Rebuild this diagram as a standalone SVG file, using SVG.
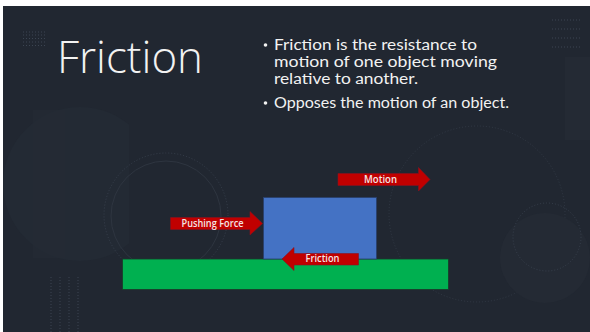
<svg xmlns="http://www.w3.org/2000/svg" width="590" height="332" viewBox="0 0 590 332">
  <defs>
    <style>
      .deco { fill: none; stroke: #2e3540; stroke-width: 1; }
      .dots { fill: none; stroke: #3c4552; stroke-width: 1; stroke-dasharray: 1 2; }
      .title { font-family: "Open Sans", "Liberation Sans", sans-serif; font-weight: 300; font-size: 45px; fill: #f2f2f2; }
      .bullet { font-family: Lato, "Liberation Sans", sans-serif; font-size: 14.5px; fill: #f2f2f2; }
      .arrow { fill: #c00000; stroke: #8a1020; stroke-width: 0.6; }
      .lbl { font-family: "Open Sans", "Liberation Sans", sans-serif; font-size: 10px; font-weight: 600; fill: #f4e4e4; text-anchor: middle; }
    </style>
    <clipPath id="slide"><rect x="3" y="6" width="587" height="326"/></clipPath>
    <clipPath id="leftc"><rect x="0" y="0" width="129" height="332"/></clipPath>
  </defs>

  <rect x="0" y="0" width="590" height="332" fill="#ffffff"/>
  <g id="background" clip-path="url(#slide)">
    <rect x="3" y="6" width="587" height="326" fill="#212731"/>
    <circle cx="80" cy="184" r="77" fill="#232a34" clip-path="url(#leftc)"/>
    <rect x="33" y="110" width="32" height="148" fill="#252b35" clip-path="url(#leftc)" opacity="0.6"/>
    <circle cx="166" cy="216" r="55" class="deco"/>
    <circle cx="166" cy="215" r="62" class="dots" opacity="0.8"/>
    <circle cx="477" cy="214" r="88" class="dots" opacity="0.6"/>
    <circle cx="545" cy="258" r="45" fill="#242a34"/>
    <circle cx="547" cy="237" r="34" class="dots" opacity="0.8"/>
    <rect x="565" y="57" width="25" height="83" fill="#242a34"/>
    <g class="dots">
      <line x1="23" y1="32" x2="45" y2="32"/>
      <line x1="23" y1="35" x2="45" y2="35"/>
      <line x1="23" y1="38.5" x2="45" y2="38.5"/>
      <line x1="23" y1="42" x2="45" y2="42"/>
      <line x1="23" y1="45.5" x2="45" y2="45.5"/>
      <line x1="552" y1="20" x2="580" y2="20"/>
      <line x1="552" y1="29" x2="580" y2="29"/>
      <line x1="552" y1="38" x2="580" y2="38"/>
      <line x1="552" y1="47" x2="580" y2="47"/>
      <line x1="51" y1="277" x2="51" y2="332"/>
      <line x1="60" y1="277" x2="60" y2="332"/>
      <line x1="69" y1="277" x2="69" y2="332"/>
      <line x1="78" y1="277" x2="78" y2="332"/>
    </g>
  </g>

  <g id="title">
    <text class="title" x="57" y="73" textLength="146" lengthAdjust="spacingAndGlyphs">Friction</text>
  </g>

  <g id="bullets">
    <circle cx="265.5" cy="45" r="1.8" fill="#f2f2f2"/>
    <text class="bullet" x="274" y="50" textLength="203" lengthAdjust="spacingAndGlyphs">Friction is the resistance to</text>
    <text class="bullet" x="274" y="67" textLength="223" lengthAdjust="spacingAndGlyphs">motion of one object moving</text>
    <text class="bullet" x="274" y="84" textLength="144" lengthAdjust="spacingAndGlyphs">relative to another.</text>
    <circle cx="265.5" cy="103" r="1.8" fill="#f2f2f2"/>
    <text class="bullet" x="274" y="108" textLength="235" lengthAdjust="spacingAndGlyphs">Opposes the motion of an object.</text>
  </g>

  <g id="ground">
    <rect x="122.5" y="259" width="326" height="30.5" fill="#00b050" stroke="#1a3a2a" stroke-width="0.8"/>
  </g>

  <g id="block">
    <rect x="263.5" y="197.5" width="113" height="61.5" fill="#4472c4" stroke="#2a3f6a" stroke-width="0.8"/>
  </g>

  <g id="connectors">
    <g id="motion-arrow">
      <polygon class="arrow" points="338,173.5 418.5,173.5 418.5,167.5 430,179.5 418.5,191 418.5,185.5 338,185.5"/>
      <text class="lbl" x="380.5" y="182.7" textLength="33" lengthAdjust="spacingAndGlyphs">Motion</text>
    </g>
    <g id="pushing-arrow">
      <polygon class="arrow" points="170.5,217.5 250,217.5 250,211.5 262.5,223.5 250,235 250,229.5 170.5,229.5"/>
      <text class="lbl" x="212.5" y="226.7" textLength="62" lengthAdjust="spacingAndGlyphs">Pushing Force</text>
    </g>
    <g id="friction-arrow">
      <polygon class="arrow" points="358.5,253.5 294,253.5 294,247.5 282,259 294,270.5 294,265 358.5,265"/>
      <text class="lbl" x="322.5" y="262.3" textLength="34" lengthAdjust="spacingAndGlyphs">Friction</text>
    </g>
  </g>
</svg>
